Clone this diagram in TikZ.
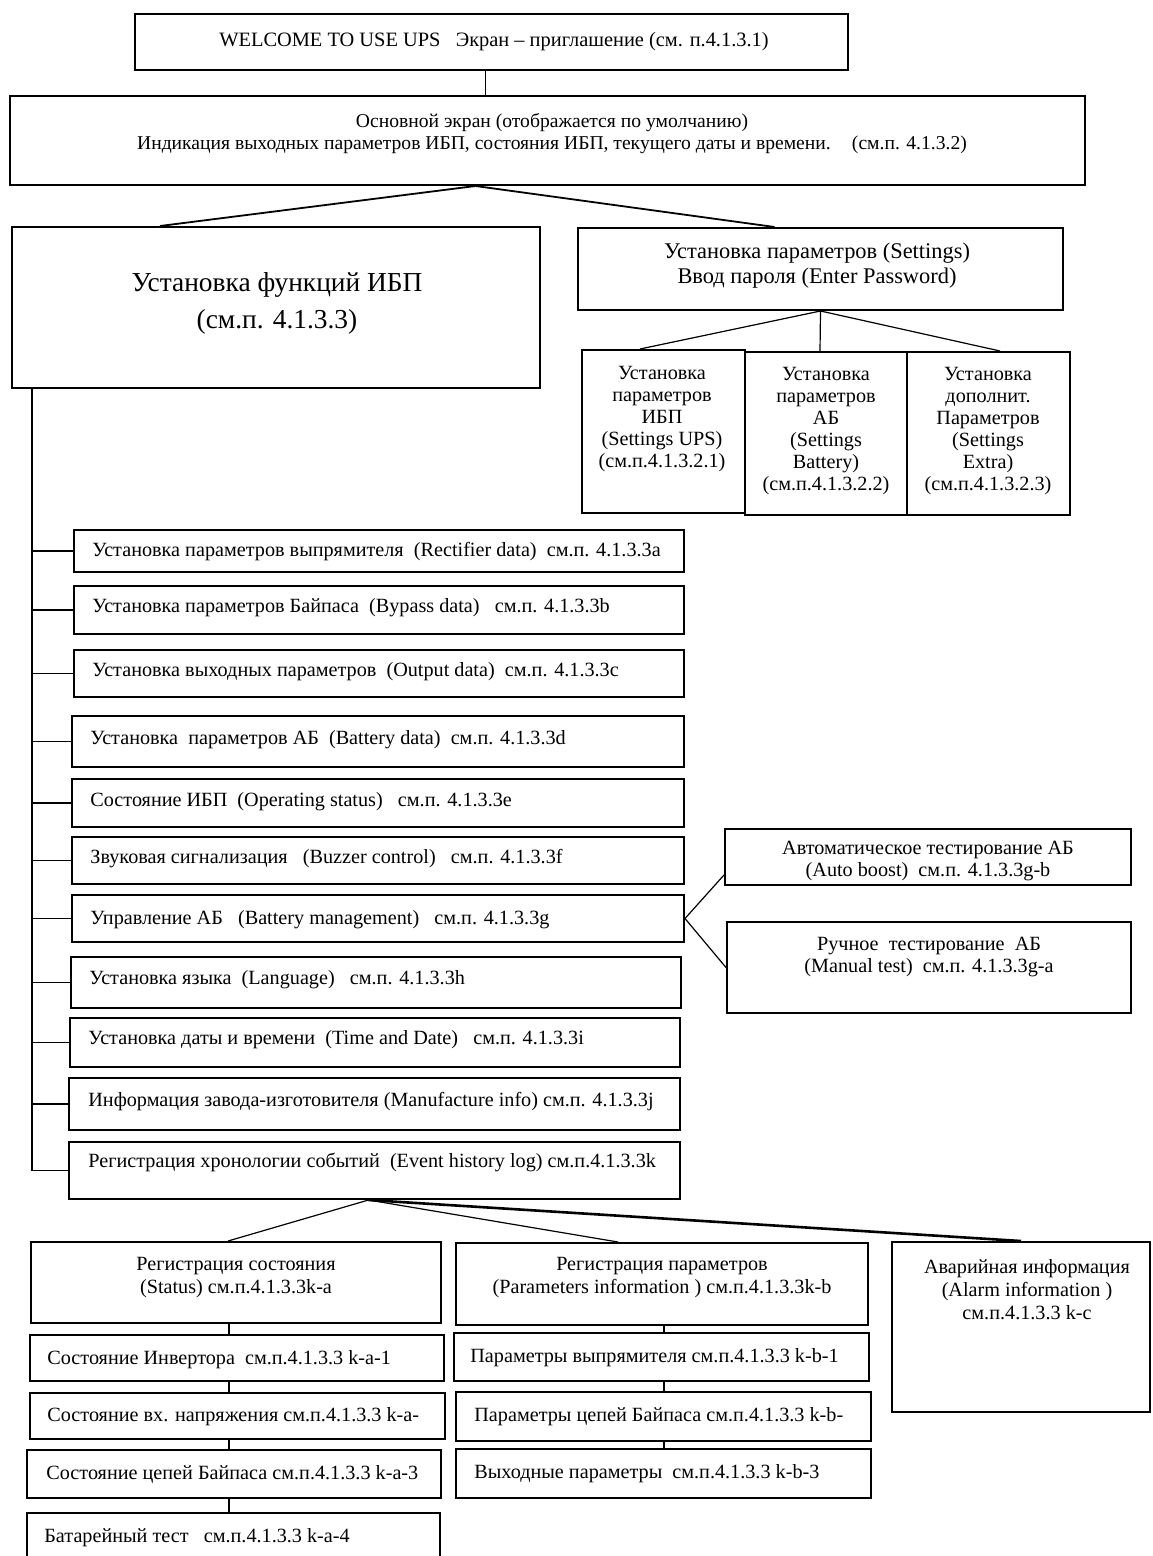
\documentclass[tikz,border=0pt]{standalone}
\usepackage{fontspec}
\setmainfont{Liberation Serif}
\usetikzlibrary{fit,calc}
\begin{document}
\begin{tikzpicture}[x=0.5pt,y=-0.5pt,
  bx/.style={draw,line width=1pt,inner sep=0pt},
  conn/.style={line width=0.9pt},
  thinconn/.style={line width=0.6pt},
  txt/.style={inner sep=0pt,font=\fontsize{10.1}{11}\selectfont},
  ltxt/.style={txt,anchor=west},
  ctxt/.style={txt,align=center}]
\useasboundingbox[fill=white] (0,0) rectangle (1152,1556);

% ---------- boxes ----------
\node[bx,fit={(135,14) (848,70)}] (welcome) {};
\node[bx,fit={(10,96) (1085,185)}] (main) {};
\node[bx,fit={(12,227) (540,388)}] (funk) {};
\node[bx,fit={(578,228) (1063,310)}] (sett) {};
\node[bx,fit={(582,350) (745,513)}] (sa) {};
\node[bx,fit={(745,352) (907,515)}] (sb) {};
\node[bx,fit={(907,352) (1070,515)}] (sc) {};

\node[bx,fit={(74,530) (684,572)}] (r1) {};
\node[bx,fit={(74,586) (684,634)}] (r2) {};
\node[bx,fit={(74,650) (684,697)}] (r3) {};
\node[bx,fit={(72,716) (684,767)}] (r4) {};
\node[bx,fit={(72,779) (684,827)}] (r5) {};
\node[bx,fit={(72,837) (684,884)}] (r6) {};
\node[bx,fit={(72,895) (684,942)}] (r7) {};
\node[bx,fit={(71,957) (681,1008)}] (r8) {};
\node[bx,fit={(70,1018) (680,1067)}] (r9) {};
\node[bx,fit={(69,1078) (680,1130)}] (r10) {};
\node[bx,fit={(69,1142) (680,1199)}] (r11) {};

\node[bx,fit={(725,829) (1131,885)}] (auto) {};
\node[bx,fit={(727,922) (1131,1013)}] (manual) {};

\node[bx,fit={(31,1242) (441,1323)}] (status) {};
\node[bx,fit={(456,1243) (868,1325)}] (params) {};
\node[bx,fit={(892,1242) (1150,1412)}] (alarm) {};

\node[bx,fit={(30,1335) (444,1381)}] (s1) {};
\node[bx,fit={(30,1393) (445,1439)}] (s2) {};
\node[bx,fit={(27,1450) (441,1498)}] (s3) {};
\node[bx,fit={(27,1513) (440,1566)}] (s4) {};
\node[bx,fit={(454,1333) (869,1381)}] (p1) {};
\node[bx,fit={(456,1392) (871,1441)}] (p2) {};
\node[bx,fit={(456,1449) (871,1498)}] (p3) {};

% ---------- texts ----------
\node[txt,font=\fontsize{10.2}{11}\selectfont] at (494,42) {WELCOME TO USE UPS~~ Экран – приглашение (см. п.4.1.3.1)};
\node[ctxt,font=\fontsize{9.8}{11}\selectfont] at (552,134) {Основной экран (отображается по умолчанию)\\Индикация выходных параметров ИБП, состояния ИБП, текущего даты и времени.~~~ (см.п. 4.1.3.2)};
\node[ctxt,font=\fontsize{13.7}{18.5}\selectfont] at (277,303) {Установка функций ИБП\\(см.п. 4.1.3.3)};
\node[ctxt,font=\fontsize{11.2}{12.5}\selectfont] at (817,266) {Установка параметров (Settings)\\Ввод пароля (Enter Password)};
\node[ctxt] at (662,419) {Установка\\параметров\\ИБП\\(Settings UPS)\\(см.п.4.1.3.2.1)};
\node[ctxt] at (826,431) {Установка\\параметров\\АБ\\(Settings\\Battery)\\(см.п.4.1.3.2.2)};
\node[ctxt] at (988,431) {Установка\\дополнит.\\Параметров\\(Settings\\Extra)\\(см.п.4.1.3.2.3)};

\node[ltxt] at (92,552) {Установка параметров выпрямителя~ (Rectifier data)~ см.п. 4.1.3.3a};
\node[ltxt] at (92,608) {Установка параметров Байпаса~ (Bypass data)~~ см.п. 4.1.3.3b};
\node[ltxt] at (92,672) {Установка выходных параметров~ (Output data)~ см.п. 4.1.3.3c};
\node[ltxt] at (90,740) {Установка~ параметров АБ~ (Battery data)~ см.п. 4.1.3.3d};
\node[ltxt] at (90,802) {Состояние ИБП~ (Operating status)~~ см.п. 4.1.3.3e};
\node[ltxt] at (90,859) {Звуковая сигнализация~~ (Buzzer control)~~ см.п. 4.1.3.3f};
\node[ltxt] at (90,920) {Управление АБ~~ (Battery management)~~ см.п. 4.1.3.3g};
\node[ltxt] at (89,980) {Установка языка~ (Language)~~ см.п. 4.1.3.3h};
\node[ltxt] at (88,1040) {Установка даты и времени~ (Time and Date)~~ см.п. 4.1.3.3i};
\node[ltxt] at (88,1102) {Информация завода-изготовителя (Manufacture info) см.п. 4.1.3.3j};
\node[ltxt] at (88,1162) {Регистрация хронологии событий~ (Event history log) см.п.4.1.3.3k};

\node[ctxt] at (928,861) {Автоматическое тестирование АБ\\(Auto boost)~ см.п. 4.1.3.3g-b};
\node[ctxt] at (929,957) {Ручное~ тестирование~ АБ\\(Manual test)~ см.п. 4.1.3.3g-a};

\node[ctxt,font=\fontsize{10.1}{11.5}\selectfont] at (236,1278) {Регистрация состояния\\(Status) см.п.4.1.3.3k-a};
\node[ctxt,font=\fontsize{10.1}{11.5}\selectfont] at (662,1278) {Регистрация параметров\\(Parameters information ) см.п.4.1.3.3k-b};
\node[ctxt,font=\fontsize{10.1}{11.5}\selectfont] at (1027,1290) {Аварийная информация\\(Alarm information )\\см.п.4.1.3.3 k-c};

\node[ltxt] at (47,1360) {Состояние Инвертора~ см.п.4.1.3.3 k-a-1};
\node[ltxt] at (47,1417) {Состояние вх. напряжения см.п.4.1.3.3 k-a-};
\node[ltxt] at (46,1474) {Состояние цепей Байпаса см.п.4.1.3.3 k-a-3};
\node[ltxt] at (44,1538) {Батарейный тест~~ см.п.4.1.3.3 k-a-4};
\node[ltxt] at (470,1358) {Параметры выпрямителя см.п.4.1.3.3 k-b-1};
\node[ltxt] at (474,1417) {Параметры цепей Байпаса см.п.4.1.3.3 k-b-};
\node[ltxt] at (474,1474) {Выходные параметры~ см.п.4.1.3.3 k-b-3};

% ---------- connectors ----------
\draw[conn] ([xshift=-3pt]welcome.south) -- ([xshift=-3pt]welcome.south |- main.north);
\draw[conn] ([xshift=-36pt]main.south) -- ([xshift=-58pt]funk.north);
\draw[conn] ([xshift=-36pt]main.south) -- ([xshift=-23pt]sett.north);
\draw[thinconn] (sett.south) -- ([xshift=-11.75pt]sa.north);
\draw[thinconn] (sett.south) -- ([xshift=-3pt]sb.north);
\draw[thinconn] (sett.south) -- ([xshift=5.75pt]sc.north);

\coordinate (spine) at ([xshift=10.5pt]funk.south west);
\draw[thinconn] (spine) -- (spine |- r11.west);
\foreach \r in {r1,r2,r3,r4,r5,r6,r7,r8,r9,r10,r11}
  \draw[conn] (spine |- \r.west) -- (\r.west);

\draw[thinconn] (r7.east) -- ([yshift=-9pt]auto.west);
\draw[thinconn] (r7.east) -- (manual.west);

\draw[thinconn] ([xshift=-3pt]r11.south) -- ([xshift=-4pt]status.north);
\draw[thinconn] ([xshift=-3pt]r11.south) -- ([xshift=-22pt]params.north);
\draw[line width=1.3pt] ([xshift=-3pt]r11.south) -- (alarm.north);

\coordinate (colA) at (229,0);
\coordinate (colB) at (664,0);
\draw[thinconn] (status.south -| colA) -- (s1.north -| colA);
\draw[thinconn] (s1.south -| colA) -- (s2.north -| colA);
\draw[thinconn] (s2.south -| colA) -- (s3.north -| colA);
\draw[thinconn] (s3.south -| colA) -- (s4.north -| colA);
\draw[thinconn] (params.south -| colB) -- (p1.north -| colB);
\draw[thinconn] (p1.south -| colB) -- (p2.north -| colB);
\draw[thinconn] (p2.south -| colB) -- (p3.north -| colB);
\end{tikzpicture}
\end{document}
